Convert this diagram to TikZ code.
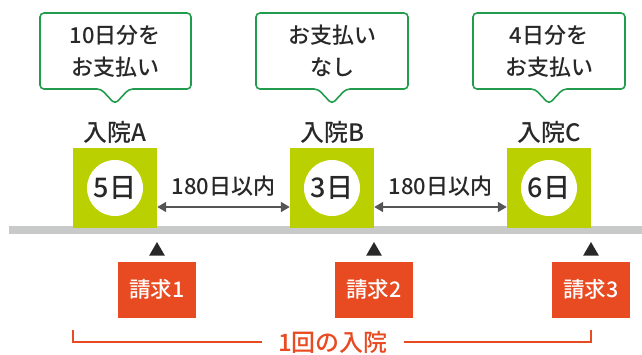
\documentclass[tikz,border=0pt]{standalone}
\usepackage{fontspec}
\setmainfont{Noto Sans CJK JP Medium}
\usetikzlibrary{shapes.geometric,arrows.meta}

\definecolor{leaf}{RGB}{186,208,0}
\definecolor{callgreen}{RGB}{34,156,76}
\definecolor{claimred}{RGB}{232,74,34}
\definecolor{rail}{RGB}{200,201,201}
\definecolor{ink}{RGB}{40,40,40}
\definecolor{arrowgray}{RGB}{85,85,85}

\tikzset{
  bubble/.style={draw=callgreen, line width=1.6pt, fill=white, rounded corners=4pt},
  bubbletext/.style={align=center, text=ink, font=\fontsize{22}{32}\selectfont},
  stay/.style={fill=leaf, minimum width=84pt, minimum height=80pt, inner sep=0pt},
  days/.style={circle, fill=white, minimum size=56pt, inner sep=0pt, text=ink, font=\fontsize{27}{27}\selectfont},
  stayname/.style={text=ink, font=\fontsize{24}{24}\selectfont},
  within/.style={text=ink, font=\fontsize{22}{22}\selectfont},
  gap/.style={{Triangle[length=9pt,width=10pt]}-{Triangle[length=9pt,width=10pt]}, draw=arrowgray, line width=1.8pt},
  uptri/.style={regular polygon, regular polygon sides=3, fill=ink, inner sep=0pt, minimum size=18pt},
  claim/.style={fill=claimred, text=white, minimum width=78pt, minimum height=56pt, inner sep=0pt, font=\fontsize{21.5}{21.5}\selectfont},
  span/.style={text=claimred, inner xsep=16pt, font=\fontsize{24}{24}\selectfont},
}

\begin{document}
\begin{tikzpicture}[x=1pt, y=-1pt]
\useasboundingbox (0,0) rectangle (642,354);

% rail
\fill[rail] (9,226) rectangle (642,234);

% callouts
\draw[bubble] (40,13) -- (191,13) -- (191,89) -- (129,89) -- (115,104) -- (101,89) -- (40,89) -- cycle;
\draw[bubble] (256,13) -- (408,13) -- (408,89) -- (346,89) -- (332,104) -- (318,89) -- (256,89) -- cycle;
\draw[bubble] (473,13) -- (625,13) -- (625,89) -- (563,89) -- (549,104) -- (535,89) -- (473,89) -- cycle;
\node[bubbletext] (payA) at (115,51) {10日分を\\お支払い};
\node[bubbletext] (payB) at (332,51) {お支払い\\なし};
\node[bubbletext] (payC) at (549,51) {4日分を\\お支払い};

% stays
\node[stayname] (nameA) at (115,132) {入院A};
\node[stayname] (nameB) at (332,132) {入院B};
\node[stayname] (nameC) at (549,132) {入院C};
\node[stay] (boxA) at (115,188) {};
\node[stay] (boxB) at (332,188) {};
\node[stay] (boxC) at (549,188) {};
\node[days] (dayA) at (boxA) {5日};
\node[days] (dayB) at (boxB) {3日};
\node[days] (dayC) at (boxC) {6日};

% intervals
\draw[gap] ([yshift=-19pt]boxA.east) -- ([yshift=-19pt]boxB.west);
\draw[gap] ([yshift=-19pt]boxB.east) -- ([yshift=-19pt]boxC.west);
\node[within] (gapAB) at (223.5,186) {180日以内};
\node[within] (gapBC) at (440.5,186) {180日以内};

% claims
\node[uptri] (triA) at (157,251) {};
\node[uptri] (triB) at (374,251) {};
\node[uptri] (triC) at (591,251) {};
\node[claim] (claim1) at (157,289.5) {請求1};
\node[claim] (claim2) at (374,289.5) {請求2};
\node[claim] (claim3) at (591,289.5) {請求3};

% one stay
\node[span] (once) at (333,342) {1回の入院};
\draw[claimred, line width=1.5pt] (once.west) -- (once.west -| boxA.west) -- ++(0,-12);
\draw[claimred, line width=1.5pt] (once.east) -- (once.east -| claim3) -- ++(0,-12);
\end{tikzpicture}
\end{document}
